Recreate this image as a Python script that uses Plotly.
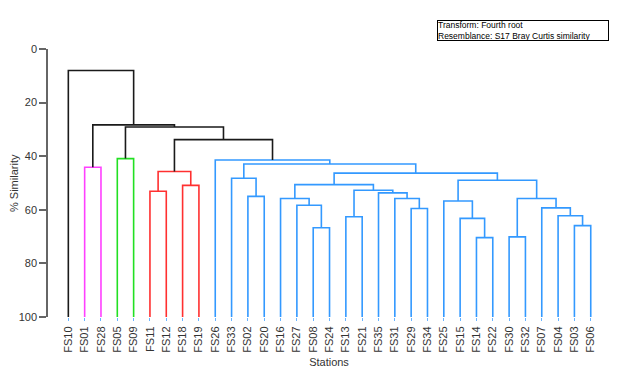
import plotly.graph_objects as go

# ---- data ----
leaves = ["FS10", "FS01", "FS28", "FS05", "FS09", "FS11", "FS12", "FS18", "FS19",
          "FS26", "FS33", "FS02", "FS20", "FS16", "FS27", "FS08", "FS24", "FS13",
          "FS21", "FS35", "FS31", "FS29", "FS34", "FS25", "FS15", "FS14", "FS22",
          "FS30", "FS32", "FS07", "FS04", "FS03", "FS06"]

# merges: node name, left child, right child, % similarity, cluster group
merge_names = ["n1", "n2", "n3", "n4", "n5", "n6", "n7", "n8", "n9", "n10", "n11",
               "n12", "n13", "n14", "n15", "n16", "n17", "n18", "n19", "n20", "n21",
               "n22", "n23", "n24", "n25", "n26", "n27", "n28", "n29", "n30", "n31", "n32"]
merge_left = ["FS01", "FS05", "FS11", "FS18", "n3", "FS02", "FS33", "FS08", "FS27", "FS16",
              "FS13", "FS29", "FS31", "FS35", "n11", "n10", "FS14", "FS15", "FS25", "FS30",
              "FS03", "FS04", "FS07", "n20", "n19", "n16", "n7", "FS26", "n5", "n2", "n1", "FS10"]
merge_right = ["FS28", "FS09", "FS12", "FS19", "n4", "FS20", "n6", "FS24", "n8", "n9",
               "FS21", "FS34", "n12", "n13", "n14", "n15", "FS22", "n17", "n18", "FS32",
               "FS06", "n21", "n22", "n23", "n24", "n25", "n26", "n27", "n28", "n29", "n30", "n31"]
merge_height = [44.1, 40.9, 53.1, 50.9, 45.7, 55.0, 48.2, 66.7, 58.3, 55.8,
                62.6, 59.5, 55.8, 53.7, 52.7, 50.6, 70.4, 63.2, 56.7, 70.1,
                65.9, 62.2, 59.3, 55.8, 49.0, 46.3, 42.9, 41.4, 33.8, 29.1, 28.3, 8.0]
merge_group = ["magenta", "green", "red", "red", "red"] + ["blue"] * 23 + ["black"] * 4

group_colors = {"magenta": "#FF40FF", "green": "#22E022", "red": "#FF3030",
                "blue": "#3399FF", "black": "#1A1A1A"}

y_ticks = [0, 20, 40, 60, 80, 100]
y_title = "% Similarity"
x_title = "Stations"
info_lines = ["Transform: Fourth root", "Resemblance: S17 Bray Curtis similarity"]

# ---- build dendrogram geometry from data ----
pos = {name: float(i) for i, name in enumerate(leaves)}
hgt = {name: 100.0 for name in leaves}
segs = {g: ([], []) for g in group_colors}
for name, l, r, h, g in zip(merge_names, merge_left, merge_right, merge_height, merge_group):
    xl, xr = pos[l], pos[r]
    xs, ys = segs[g]
    xs += [xl, xl, xr, xr, None]
    ys += [hgt[l], h, h, hgt[r], None]
    pos[name] = (xl + xr) / 2
    hgt[name] = h

fig = go.Figure()
for g, (xs, ys) in segs.items():
    fig.add_trace(go.Scatter(x=xs, y=ys, mode="lines",
                             line=dict(color=group_colors[g], width=1.6),
                             hoverinfo="skip", showlegend=False))

fig.update_layout(
    width=619, height=375,
    margin=dict(l=48, r=9, t=49, b=55),
    paper_bgcolor="white", plot_bgcolor="white",
    font=dict(family="Liberation Sans, Arial, sans-serif", size=11, color="#333333"),
    xaxis=dict(range=[-1.245, 33.18], tickmode="array",
               tickvals=list(range(len(leaves))), ticktext=leaves,
               tickangle=-90, showgrid=False, zeroline=False, showline=False,
               ticks="outside", ticklen=3, tickwidth=1.2, tickcolor="#6AB4FF",
               ticklabelstandoff=1,
               tickfont=dict(size=11, color="#333333"),
               title=dict(text=x_title, font=dict(size=11, color="#333333"), standoff=6)),
    yaxis=dict(range=[100, 0], tickmode="array", tickvals=y_ticks,
               showgrid=False, zeroline=False, showline=True, linecolor="#666666",
               linewidth=1.5, ticks="outside", ticklen=7, tickcolor="#666666",
               tickwidth=1.5, tickfont=dict(size=11, color="#333333")),
    annotations=[
        dict(text="<br>".join(info_lines), xref="paper", yref="paper",
             x=0.998, y=1.0, yshift=8, xanchor="right", yanchor="bottom",
             align="left", showarrow=False, bordercolor="#000000",
             borderwidth=1, borderpad=0, bgcolor="white",
             width=170, height=19,
             font=dict(size=8.5, color="#000000",
                       family="Liberation Sans Narrow, Liberation Sans, Arial")),
        dict(text=y_title, xref="paper", yref="paper", x=0, y=0.5,
             xshift=-34, xanchor="center", yanchor="middle", textangle=-90,
             showarrow=False, font=dict(size=11, color="#333333")),
    ],
)

fig.write_html("out.html", config={"displayModeBar": False},
               post_script="document.body.style.margin='0';document.body.style.padding='0';")
